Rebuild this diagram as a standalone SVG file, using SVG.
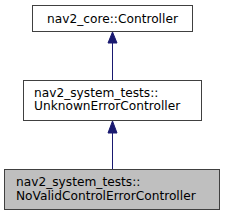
<svg xmlns="http://www.w3.org/2000/svg" width="225" height="216" viewBox="0 0 225 216">
<style>
.box{stroke:#404040;stroke-width:1;fill:#ffffff}
.sel{fill:#bfbfbf}
text{font-family:"DejaVu Sans",sans-serif;font-size:12.2px;fill:#000}
.edge{stroke:#191970;stroke-width:1;fill:none}
.head{fill:#191970;stroke:#191970}
</style>
<rect width="225" height="216" fill="#ffffff"/>
<g id="connectors">
<path class="edge" d="M112.5,80 V42"/>
<polygon class="head" points="112.5,32 108,43 117,43"/>
<path class="edge" d="M112.5,169 V133"/>
<polygon class="head" points="112.5,121 108,133 117,133"/>
</g>
<g id="node1">
<rect class="box" x="32.5" y="5.5" width="160" height="26"/>
<text x="112.5" y="22.5" text-anchor="middle">nav2_core::Controller</text>
</g>
<g id="node2">
<rect class="box" x="23.5" y="80.5" width="178" height="40"/>
<text x="34" y="96.5">nav2_system_tests::</text>
<text x="34" y="109.5">UnknownErrorController</text>
</g>
<g id="node3">
<rect class="box sel" x="4.5" y="169.5" width="215" height="40"/>
<text x="16" y="186">nav2_system_tests::</text>
<text x="16" y="199.5">NoValidControlErrorController</text>
</g>
</svg>
